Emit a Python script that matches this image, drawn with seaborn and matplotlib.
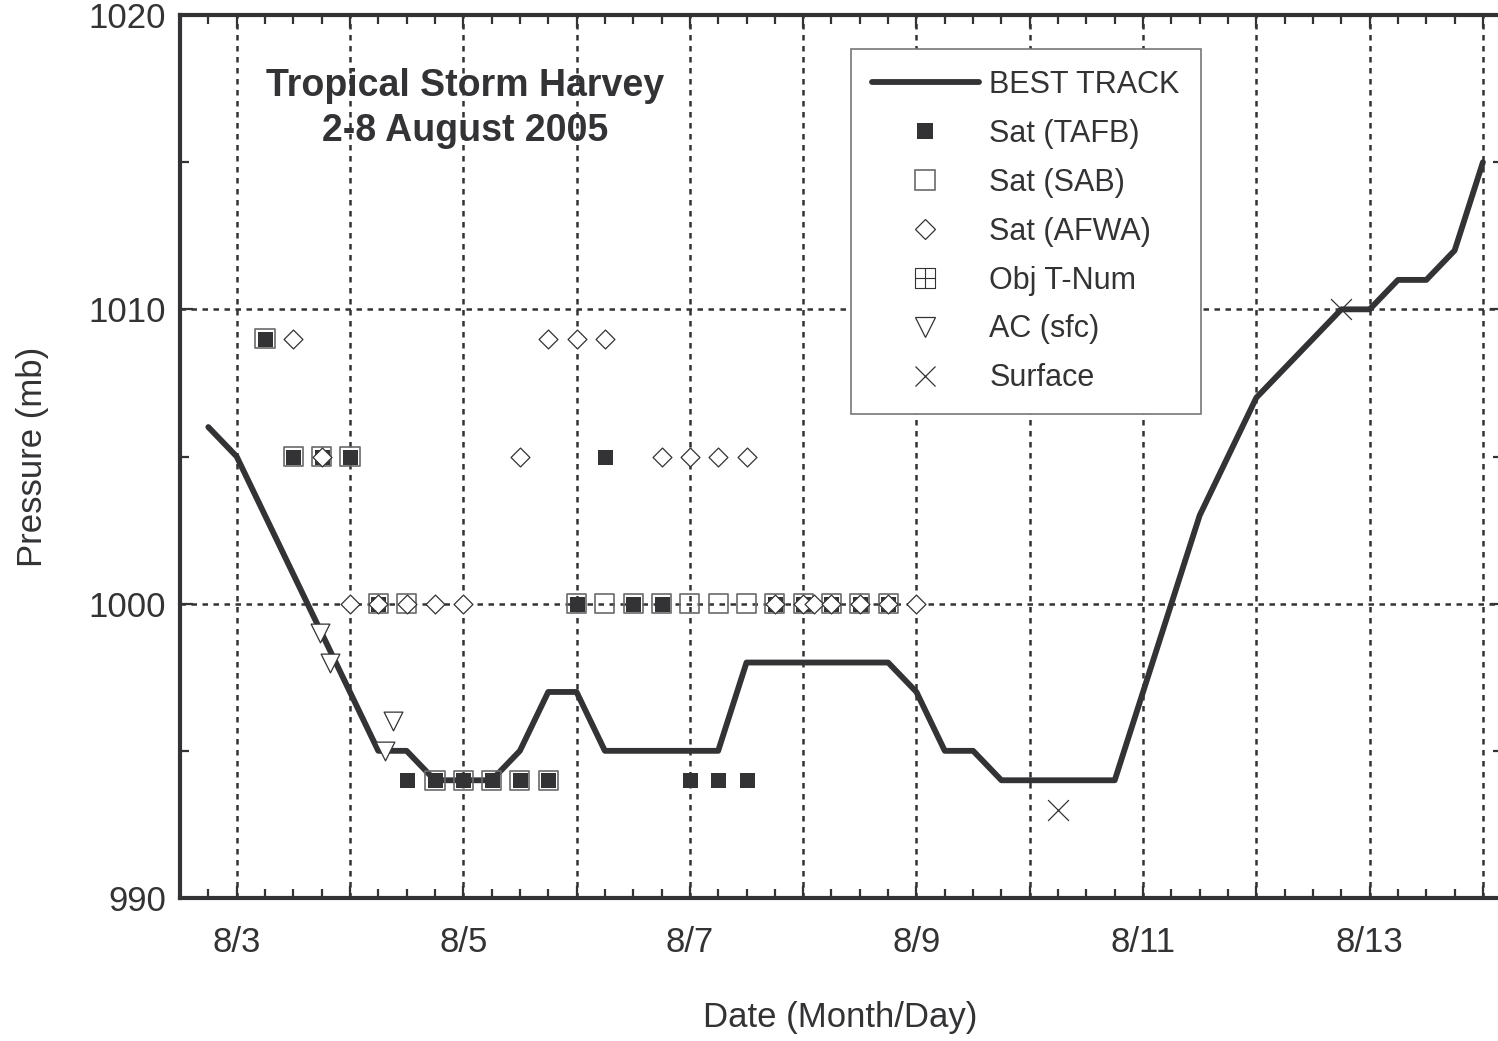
import numpy as np
import matplotlib
matplotlib.use("Agg")
import matplotlib.pyplot as plt
import matplotlib.path as mpath
from matplotlib.lines import Line2D
from matplotlib.ticker import MultipleLocator
import seaborn as sns

# best track, 6-hourly (day of August)
bt_day = [2.75, 3.0, 3.25, 3.5, 3.75, 4.0, 4.25, 4.5, 4.75, 5.0, 5.25, 5.5, 5.75,
          6.0, 6.25, 6.5, 6.75, 7.0, 7.25, 7.5, 7.75, 8.0, 8.25, 8.5, 8.75,
          9.0, 9.25, 9.5, 9.75, 10.0, 10.25, 10.5, 10.75, 11.0, 11.25, 11.5,
          11.75, 12.0, 12.25, 12.5, 12.75, 13.0, 13.25, 13.5, 13.75, 14.0]
bt_pres = [1006, 1005, 1003, 1001, 999, 997, 995, 995, 994, 994, 994, 995, 997,
           997, 995, 995, 995, 995, 995, 998, 998, 998, 998, 998, 998,
           997, 995, 995, 994, 994, 994, 994, 994, 997, 1000, 1003,
           1005, 1007, 1008, 1009, 1010, 1010, 1011, 1011, 1012, 1015]

tafb_day = [3.25, 3.5, 3.75, 4.0, 4.25, 4.5, 4.75, 5.0, 5.25, 5.5, 5.75,
            6.0, 6.25, 6.5, 6.75, 7.0, 7.25, 7.5, 7.75, 8.0, 8.25, 8.5, 8.75]
tafb_pres = [1009, 1005, 1005, 1005, 1000, 994, 994, 994, 994, 994, 994,
             1000, 1005, 1000, 1000, 994, 994, 994, 1000, 1000, 1000, 1000, 1000]

sab_day = [3.25, 3.5, 3.75, 4.0, 4.25, 4.5, 4.75, 5.0, 5.25, 5.5, 5.75,
           6.0, 6.25, 6.5, 6.75, 7.0, 7.25, 7.5, 7.75, 8.0, 8.25, 8.5, 8.75]
sab_pres = [1009, 1005, 1005, 1005, 1000, 1000, 994, 994, 994, 994, 994,
            1000, 1000, 1000, 1000, 1000, 1000, 1000, 1000, 1000, 1000, 1000, 1000]

afwa_day = [3.5, 3.75, 4.0, 4.25, 4.5, 4.75, 5.0, 5.5, 5.75, 6.0, 6.25,
            6.75, 7.0, 7.25, 7.5, 7.75, 8.0, 8.1, 8.25, 8.5, 8.75, 9.0]
afwa_pres = [1009, 1005, 1000, 1000, 1000, 1000, 1000, 1005, 1009, 1009, 1009,
             1005, 1005, 1005, 1005, 1000, 1000, 1000, 1000, 1000, 1000, 1000]

ac_day = [3.74, 3.82, 4.31, 4.38]
ac_pres = [999, 998, 995, 996]

sfc_day = [10.25, 12.75]
sfc_pres = [993, 1010]

tick_days = [3, 4, 5, 6, 7, 8, 9, 10, 11, 12, 13, 14]
tick_labels = ["8/3", "", "8/5", "", "8/7", "", "8/9", "", "8/11", "", "8/13", ""]

legend_labels = ["BEST TRACK", "Sat (TAFB)", "Sat (SAB)", "Sat (AFWA)",
                 "Obj T-Num", "AC (sfc)", "Surface"]

dark = "#333336"

sns.set_style("ticks")
plt.rcParams["font.family"] = ["Liberation Sans", "DejaVu Sans"]
plt.rcParams["text.color"] = dark
plt.rcParams["axes.labelcolor"] = dark
plt.rcParams["xtick.color"] = dark
plt.rcParams["ytick.color"] = dark

fig = plt.figure(figsize=(14.98, 10.41), dpi=100)
ax = fig.add_axes([180 / 1498, 143 / 1041, 1322 / 1498, 883 / 1041])

sns.lineplot(x=bt_day, y=bt_pres, ax=ax, color=dark, lw=4.2, zorder=3)
sns.scatterplot(x=tafb_day, y=tafb_pres, ax=ax, marker="s", s=10.8 ** 2,
                color=dark, edgecolor=dark, linewidth=0, zorder=4)
sns.scatterplot(x=sab_day, y=sab_pres, ax=ax, marker="s", s=13.8 ** 2,
                facecolor="none", edgecolor="#6a6a6a", linewidth=1.2, zorder=5)
sns.scatterplot(x=afwa_day, y=afwa_pres, ax=ax, marker="D", s=9.6 ** 2,
                facecolor="white", edgecolor=dark, linewidth=0.9, zorder=6)
sns.scatterplot(x=ac_day, y=ac_pres, ax=ax, marker="v", s=13.5 ** 2,
                facecolor="white", edgecolor=dark, linewidth=0.9, zorder=6)
sns.scatterplot(x=sfc_day, y=sfc_pres, ax=ax, marker="x", s=15 ** 2,
                color=dark, linewidth=0.9, zorder=6)

ax.set_xlim(2.5, 2.5 + 1322 / 113.3)
ax.set_ylim(990, 1020)
ax.set_xticks(tick_days)
ax.set_xticklabels(tick_labels)
ax.xaxis.set_minor_locator(MultipleLocator(0.25))
ax.set_yticks([990, 1000, 1010, 1020])
ax.yaxis.set_minor_locator(MultipleLocator(5))

ax.tick_params(which="both", direction="in", top=True, right=True,
               width=1.6, colors=dark, labelsize=25)
ax.tick_params(which="major", length=9)
ax.tick_params(which="minor", length=6.5)
ax.tick_params(axis="x", which="major", pad=20)
ax.tick_params(axis="y", which="major", pad=10)

ax.grid(True, which="major", axis="x", color=dark, ls=(0, (2.2, 2.2)), lw=1.8)
for yv in [1000, 1010]:
    ax.axhline(yv, color=dark, ls=(0, (2.2, 2.2)), lw=1.8, zorder=1)

for sp in ax.spines.values():
    sp.set_linewidth(3)
    sp.set_color(dark)

ax.set_xlabel("Date (Month/Day)", fontsize=25)
ax.set_ylabel("Pressure (mb)", fontsize=25)
ax.xaxis.set_label_coords(0.4995, -0.117)
ax.yaxis.set_label_coords(-0.099, 0.5)

ax.text(0.2156, 0.894, "Tropical Storm Harvey\n2-8 August 2005",
        transform=ax.transAxes, ha="center", va="center", fontsize=27,
        fontweight="bold", linespacing=1.3, color=dark)

# Obj T-Num marker: square with a cross inside
tnum_marker = mpath.Path(
    [(-1, -1), (1, -1), (1, 1), (-1, 1), (-1, -1),
     (0, -1), (0, 1), (-1, 0), (1, 0)],
    [mpath.Path.MOVETO, mpath.Path.LINETO, mpath.Path.LINETO, mpath.Path.LINETO,
     mpath.Path.CLOSEPOLY, mpath.Path.MOVETO, mpath.Path.LINETO,
     mpath.Path.MOVETO, mpath.Path.LINETO])

handles = [
    Line2D([], [], color=dark, lw=4.2),
    Line2D([], [], ls="none", marker="s", ms=11, mfc=dark, mec=dark, mew=0),
    Line2D([], [], ls="none", marker="s", ms=14, mfc="none", mec="#6a6a6a", mew=1.2),
    Line2D([], [], ls="none", marker="D", ms=9.8, mfc="white", mec=dark, mew=0.9),
    Line2D([], [], ls="none", marker=tnum_marker, ms=14.5, mfc="none", mec=dark, mew=0.8),
    Line2D([], [], ls="none", marker="v", ms=14, mfc="white", mec=dark, mew=0.9),
    Line2D([], [], ls="none", marker="x", ms=15, mec=dark, mew=0.9),
]
leg = ax.legend(handles, legend_labels, loc="upper left",
                bbox_to_anchor=(851 / 1498, 1 - 49 / 1041),
                bbox_transform=fig.transFigure, fontsize=22,
                frameon=True, fancybox=False, framealpha=1,
                edgecolor="#777777", handlelength=3.5, handletextpad=0.35,
                labelspacing=0.62, borderpad=0.68, borderaxespad=0)
leg.get_frame().set_linewidth(1.2)
leg.set_zorder(10)

fig.savefig("out.png", dpi=100)
